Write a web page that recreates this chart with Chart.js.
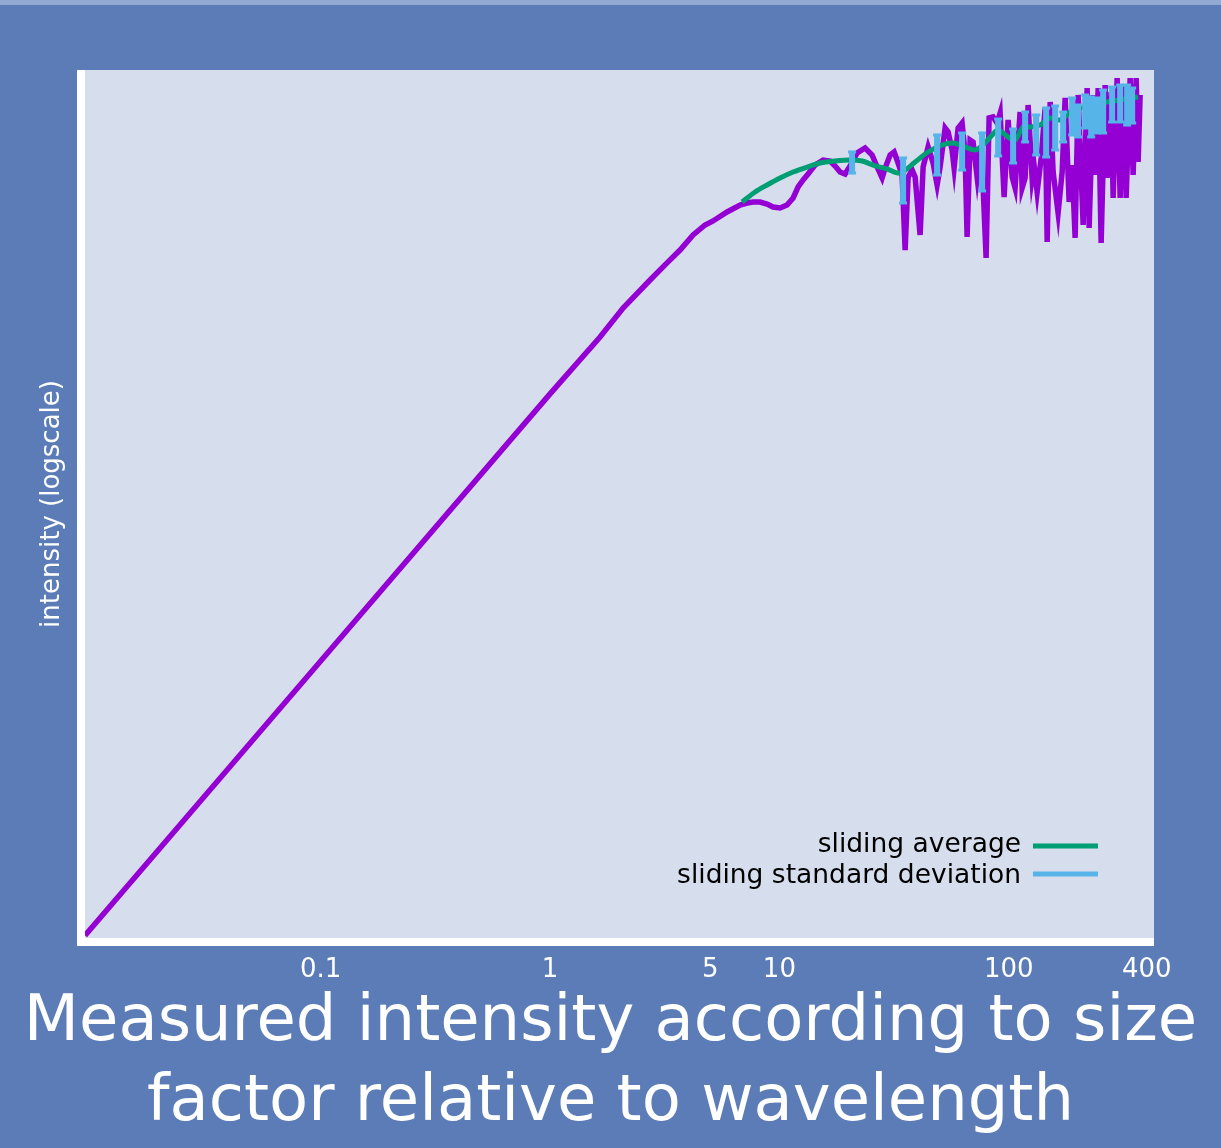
<!DOCTYPE html>
<html>
<head>
<meta charset="utf-8">
<script src="https://cdn.jsdelivr.net/npm/chart.js@4.4.1/dist/chart.umd.min.js"></script>
<style>
  html, body { margin: 0; padding: 0; background: #5b7cb7; }
  body { width: 1221px; height: 1148px; overflow: hidden; position: relative; }
  canvas { position: absolute; left: 0; top: 0; }
  #strip { position: absolute; left: 0; top: 0; width: 1221px; height: 5px; background: #93a8d2; }
</style>
</head>
<body>
<canvas id="chart" width="1221" height="1148"></canvas>
<div id="strip"></div>
<script>
// measured intensity vs size factor (x = size / wavelength)
const sizeFactor = [
  0.00938, 0.1, 1, 1.652, 2.082, 2.730, 3.237, 3.689, 4.204, 4.742,
  5.138, 5.913, 6.741, 7.230, 7.679, 8.236, 8.838, 9.386, 10.07, 10.80,
  11.48, 12.07, 12.69, 13.34, 14.31, 15.51, 16.64, 17.50, 18.39, 19.34,
  20.34, 21.83, 23.64, 25.37, 26.68, 28.05, 28.91, 30.40, 31.64, 32.94,
  34.29, 35.34, 36.42, 37.91, 39.07, 41.08, 42.34, 44.51, 46.80, 48.72,
  50.21, 52.80, 54.41, 56.63, 57.79, 60.16, 62.62, 64.53, 65.84, 67.86,
  69.93, 72.80, 75.03, 77.32, 79.69, 82.12, 85.48, 89.01, 91.73, 95.48,
  99.38, 103.5, 106.6, 112.1, 114.4, 117.9, 121.5, 126.5, 129.0, 133.0,
  138.5, 144.1, 147.1, 151.6, 156.2, 164.2, 171.0, 176.2, 183.4, 189.0,
  194.8, 200.7, 211.1, 219.8, 224.2, 233.4, 238.2, 245.5, 252.9, 263.3,
  268.6, 279.6, 285.3, 297.0, 306.1, 315.5, 325.1, 338.4, 348.7, 359.4,
  366.7, 374.1
];
const intensity = [
  1.09e-8, 1.41e-4, 1.41, 10.0, 27.2, 71.6, 129, 201, 338, 477,
  548, 747, 951, 1019, 1054, 1054, 984, 887, 857, 951,
  1211, 1770, 2254, 2767, 3776, 4487, 4335, 3648, 2965, 2767,
  3648, 5715, 6792, 5333, 3524, 2415, 3404, 5333, 5916, 4046,
  2673, 201, 2495, 3177, 2495, 338, 3524, 7031, 4046, 1897,
  3524, 13520, 11780, 6339, 3404, 13520, 16070, 5715, 315, 8954,
  8356, 2495, 6339, 1770, 153, 19100, 19770, 16070, 22700, 1253,
  17820, 2495, 1710, 23500, 1710, 2415, 29920, 2415, 3776, 1489,
  4808, 26980, 265, 33190, 2965, 721, 2965, 38110, 1054, 3776,
  305, 42270, 477, 53700, 430, 42270, 2673, 53700, 256, 59570,
  2415, 46880, 1211, 75860, 1211, 59570, 1211, 75860, 2673, 75860,
  4188, 42270
];

// sliding average
const avgX = [
  6.877, 7.834, 8.838, 10.07, 11.48, 13.21, 15.05, 17.50, 20.34, 22.95,
  25.63, 29.49, 33.61, 39.07, 44.51, 51.24, 57.22, 64.53, 71.36, 77.32,
  84.64, 89.93, 99.38, 106.6, 115.6, 124.0, 137.1, 151.6, 167.5, 185.3,
  204.8, 226.5, 250.4, 306.1, 366.7
];
const avgY = [
  1054, 1489, 1897, 2415, 2965, 3524, 4046, 4335, 4487, 4335,
  3776, 3289, 2864, 4188, 5916, 7534, 8072, 7031, 6339, 7534,
  10640, 12620, 9931, 8954, 14000, 14000, 15000, 19100, 17820, 23500,
  26980, 29920, 32060, 35560, 39450
];

// sliding standard deviation, drawn as vertical bars
const stdX = [
  20.75, 34.63, 48.72, 62.62, 76.55, 89.93, 104.5, 117.9, 131.7, 145.6, 159.4,
  172.7, 189.0, 200.7, 215.4, 228.8, 243.0, 258.0, 282.4, 306.1, 328.4, 345.3
];
const stdHigh = [
  5916, 4808, 10640, 11400, 11400, 18450, 13060, 23500, 21180, 26980, 28910,
  23500, 38110, 29920, 42270, 39450, 38110, 50120, 55590, 59570, 59570, 53700
];
const stdLow = [
  2864, 1019, 2673, 3177, 1542, 5152, 4046, 8356, 5333, 4977, 6339,
  8356, 10640, 9931, 13520, 9931, 11400, 11400, 16630, 16630, 15000, 16070
];

const xTicks = [0.1, 1, 5, 10, 100, 400];
const titleLines = ['Measured intensity according to size', 'factor relative to wavelength'];

const measured = sizeFactor.map((x, i) => ({ x: x, y: intensity[i] }));
const average = avgX.map((x, i) => ({ x: x, y: avgY[i] }));
const deviation = [];
stdX.forEach((x, i) => {
  deviation.push({ x: x, y: stdHigh[i] }, { x: x, y: stdLow[i] }, { x: x, y: null });
});

Chart.defaults.font.family = '"DejaVu Sans", sans-serif';

// plot background + white axis bars
const plotFrame = {
  id: 'plotFrame',
  beforeDraw(chart) {
    const { ctx, chartArea: a } = chart;
    ctx.save();
    ctx.fillStyle = '#d6ddec';
    ctx.fillRect(a.left, a.top, a.right - a.left, a.bottom - a.top);
    ctx.restore();
  },
  afterDatasetsDraw(chart) {
    const { ctx, chartArea: a } = chart;
    ctx.save();
    ctx.fillStyle = '#ffffff';
    ctx.fillRect(a.left - 8, a.top, 8, a.bottom - a.top + 8);
    ctx.fillRect(a.left - 8, a.bottom, a.right - a.left + 8, 8);
    ctx.restore();
  }
};

// legend in lower right, text left of the line sample
const cornerLegend = {
  id: 'cornerLegend',
  afterDraw(chart) {
    const { ctx } = chart;
    const items = chart.data.datasets.filter(d => d.inLegend);
    ctx.save();
    ctx.font = '26.5px "DejaVu Sans", sans-serif';
    ctx.textAlign = 'right';
    ctx.textBaseline = 'alphabetic';
    items.forEach((d, i) => {
      const yLine = 846 + i * 28;
      ctx.fillStyle = '#000';
      ctx.fillText(d.label, 1021, 852 + i * 31);
      ctx.strokeStyle = d.borderColor;
      ctx.lineWidth = 5;
      ctx.beginPath();
      ctx.moveTo(1033, yLine);
      ctx.lineTo(1098, yLine);
      ctx.stroke();
    });
    ctx.restore();
  }
};

new Chart(document.getElementById('chart'), {
  type: 'line',
  data: {
    datasets: [
      {
        label: 'measured',
        data: measured,
        borderColor: '#9400d3',
        borderWidth: 5.5,
        pointRadius: 0,
        tension: 0,
        order: 3
      },
      {
        label: 'sliding average',
        inLegend: true,
        data: average,
        borderColor: '#009e73',
        borderWidth: 5,
        pointRadius: 0,
        tension: 0.3,
        order: 2
      },
      {
        label: 'sliding standard deviation',
        inLegend: true,
        data: deviation,
        borderColor: '#56b4e9',
        backgroundColor: '#56b4e9',
        borderWidth: 6,
        pointStyle: 'line',
        pointRadius: 4,
        pointBorderWidth: 3,
        pointBorderColor: '#56b4e9',
        spanGaps: false,
        tension: 0,
        order: 1
      }
    ]
  },
  options: {
    responsive: false,
    animation: false,
    events: [],
    layout: { padding: { top: 70, right: 0, bottom: 0, left: 0 } },
    plugins: {
      legend: { display: false },
      tooltip: { enabled: false },
      title: {
        display: true,
        position: 'bottom',
        text: titleLines,
        color: '#ffffff',
        font: { size: 64, weight: 'normal', lineHeight: '80px' },
        padding: { top: 0, bottom: 5 }
      }
    },
    scales: {
      x: {
        type: 'logarithmic',
        min: 0.00938,
        max: 430,
        grid: { display: false, drawTicks: false },
        border: { display: false },
        afterBuildTicks: s => { s.ticks = xTicks.map(v => ({ value: v })); },
        afterFit: s => { s.height = 45; },
        ticks: {
          color: '#ffffff',
          font: { size: 26 },
          padding: 17,
          autoSkip: false,
          maxRotation: 0,
          callback: v => String(v)
        }
      },
      y: {
        type: 'logarithmic',
        min: 1e-8,
        max: 1e5,
        grid: { display: false, drawTicks: false },
        border: { display: false },
        ticks: { display: false },
        afterFit: s => { s.width = 85; },
        title: {
          display: true,
          text: 'intensity (logscale)',
          color: '#ffffff',
          font: { size: 26 },
          padding: { top: 37, bottom: 0 }
        }
      },
      // empty right margin so the title centres on the whole figure
      yRight: {
        type: 'linear',
        position: 'right',
        grid: { display: false, drawTicks: false },
        border: { display: false },
        ticks: { display: false },
        afterFit: s => { s.width = 67; }
      }
    }
  },
  plugins: [plotFrame, cornerLegend]
});
</script>
</body>
</html>
